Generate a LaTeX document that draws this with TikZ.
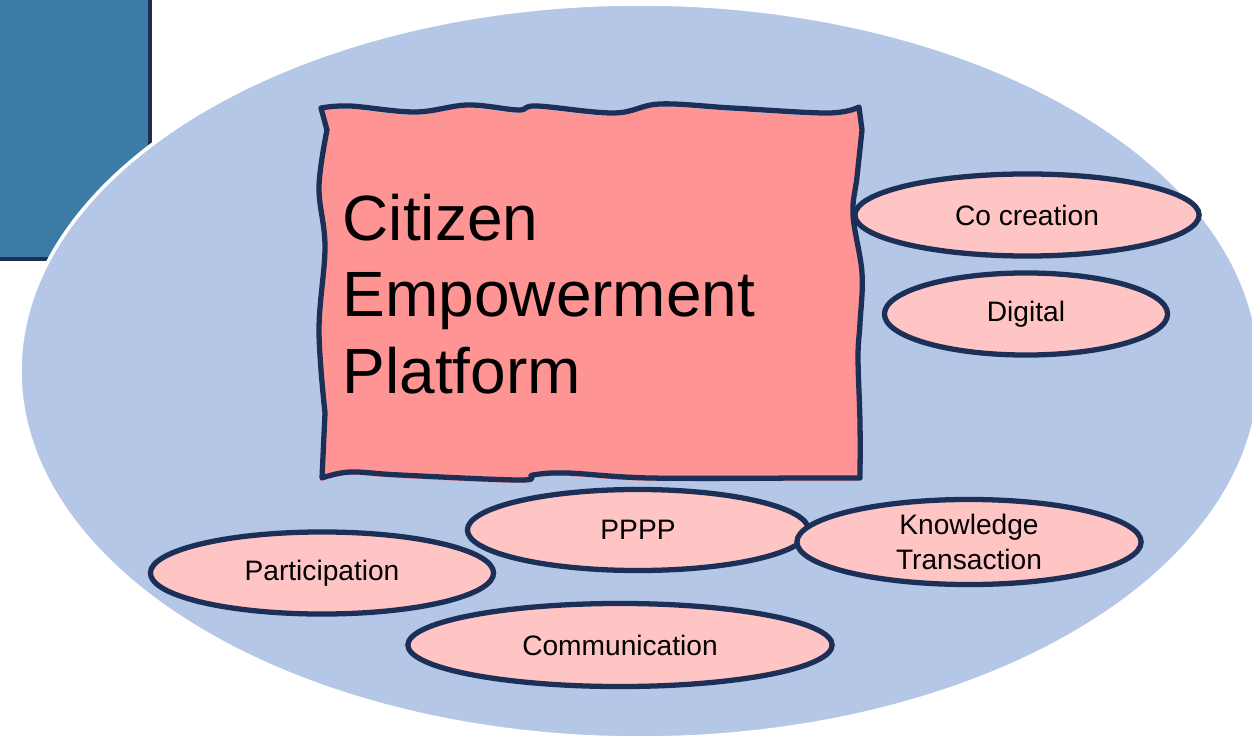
\documentclass[tikz,border=0pt]{standalone}
\usepackage{fontspec}
\setmainfont{Liberation Sans}
\usetikzlibrary{shapes.geometric}
\definecolor{navy}{HTML}{1B2F57}
\definecolor{sidebar}{HTML}{3D7BA7}
\definecolor{cloudblue}{HTML}{B4C7E7}
\definecolor{platformpink}{HTML}{FF9494}
\definecolor{topicpink}{HTML}{FFC4C4}
\begin{document}
\begin{tikzpicture}[x=0.01cm,y=-0.01cm]
	\tikzstyle{topic}=[ellipse,draw=navy,line width=1.5pt,fill=topicpink,inner sep=0pt,align=center,font=\fontsize{8}{10.2}\selectfont]
	\tikzstyle{frame}=[draw=navy,line width=1.5pt,line join=round]
	\clip (0,0) rectangle (1252,737);
	\begin{scope}
		\filldraw[fill=sidebar,draw=navy,line width=1.4pt] (-10,-10) rectangle (150,259);
		\filldraw[fill=cloudblue,draw=white,line width=1pt] (640,371) ellipse [x radius=620,y radius=367];
	\end{scope}
	\begin{scope}
		\fill[platformpink,shift={(-2,3)}] plot[smooth,tension=0.6] coordinates {(321,108) (350,106) (415,112) (468,105) (518,110) (537,106) (614,113) (660,104) (732,108) (828,113) (859,107)}
			-- plot[smooth,tension=0.6] coordinates {(862,130) (857,177) (853,215) (862,273) (860,323) (858,357) (860,423) (860,478)}
			-- plot[smooth,tension=0.6] coordinates {(800,478) (650,478) (567,473) (533,475) (520,480) (400,475) (350,472) (322,478)}
			-- plot[smooth,tension=0.6] coordinates {(325,413) (319,330) (325,247) (319,187) (327,130)} -- cycle;
		\draw[frame] plot[smooth,tension=0.6] coordinates {(321,108) (350,106) (415,112) (468,105) (518,110) (537,106) (614,113) (660,104) (732,108) (828,113) (859,107)}
			-- plot[smooth,tension=0.6] coordinates {(862,130) (857,177) (853,215) (862,273) (860,323) (858,357) (860,423) (860,478)}
			-- plot[smooth,tension=0.6] coordinates {(800,478) (650,478) (567,473) (533,475) (520,480) (400,475) (350,472) (322,478)}
			-- plot[smooth,tension=0.6] coordinates {(325,413) (319,330) (325,247) (319,187) (327,130)} -- cycle;
		\node [anchor=west,align=left,inner sep=0pt,font=\fontsize{18.2}{21.8}\selectfont] (platform) at (342,294) {Citizen\\Empowerment\\Platform};
	\end{scope}
	\begin{scope}
		\node [topic,minimum width=3.44cm,minimum height=0.82cm] (cocreation) at (1027,215) {Co creation};
		\node [topic,minimum width=2.83cm,minimum height=0.82cm] (digital) at (1026,314) {Digital};
		\node [topic,minimum width=3.43cm,minimum height=0.82cm] (participation) at (322,573) {Participation};
		\node [topic,minimum width=3.41cm,minimum height=0.81cm] (pppp) at (638,530) {PPPP};
		\node [topic,minimum width=3.44cm,minimum height=0.85cm] (knowledge) at (969,542) {Knowledge\\Transaction};
		\node [topic,minimum width=4.24cm,minimum height=0.83cm] (communication) at (620,645) {Communication};
	\end{scope}
\end{tikzpicture}
\end{document}
